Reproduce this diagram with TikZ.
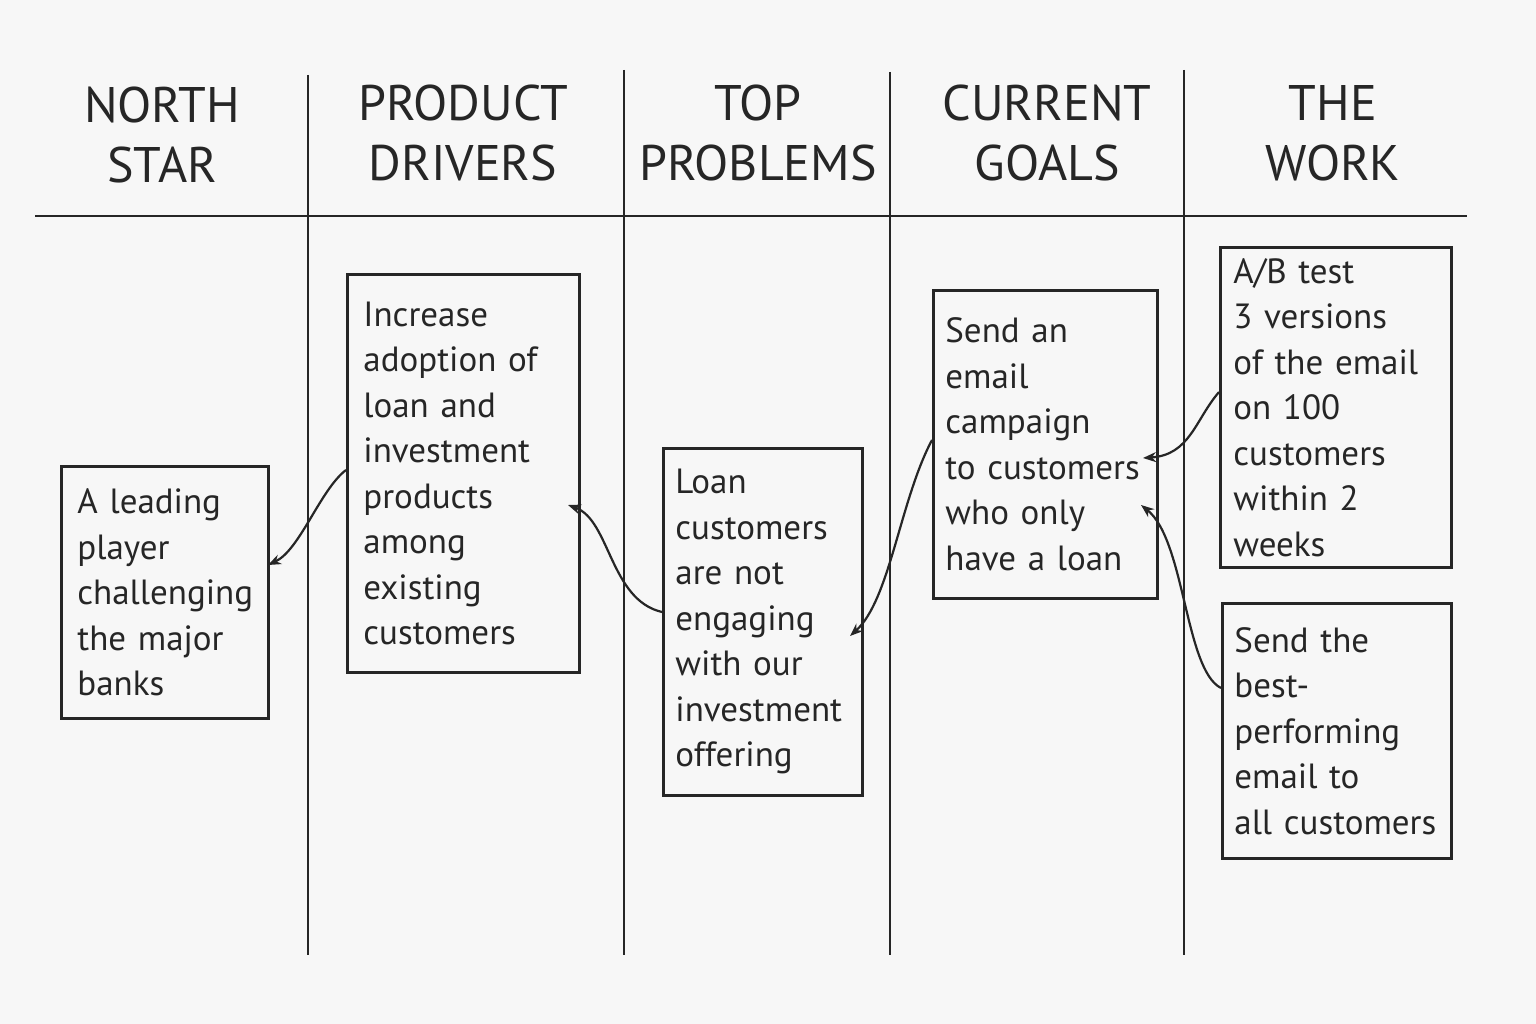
\documentclass[tikz,border=0pt]{standalone}
\usepackage{fontspec}
\setmainfont{PT Sans}
\usetikzlibrary{arrows.meta}
\begin{document}
\hyphenpenalty=10000 \exhyphenpenalty=10000
\begin{tikzpicture}[x=1pt,y=-1pt,
  rule/.style={line width=2.6pt,black!85},
  hdr/.style={font=\fontsize{50}{60}\selectfont,align=center,text=black!85},
  card/.style={draw=black!85,line width=2.8pt,anchor=north west,align=left,inner xsep=16pt,
     font=\fontsize{35}{45.5}\selectfont,text=black!85},
  link/.style={line width=2.2pt,black!85,-{Stealth[length=13pt,width=10pt]}}]
\useasboundingbox[fill=white!97!black] (0,0) rectangle (1536,1024);
\draw[rule] (35,216) -- (1467,216);
\draw[rule] (308,75) -- (308,955);
\draw[rule] (624,70) -- (624,955);
\draw[rule] (890,72) -- (890,955);
\draw[rule] (1184,70) -- (1184,955);
\node[hdr] (h1) at (162,135) {NORTH\\STAR};
\node[hdr] (h2) at (463,133) {PRODUCT\\DRIVERS};
\node[hdr] (h3) at (758,133) {TOP\\PROBLEMS};
\node[hdr] (h4) at (1047,133) {CURRENT\\GOALS};
\node[hdr] (h5) at (1333,133) {THE\\WORK};
\node[card,minimum width=207pt,minimum height=252pt,text width=175pt] (ns) at (60,465)
  {A leading\\player\\challenging\\the major\\banks};
\node[card,minimum width=232pt,minimum height=398pt,text width=200pt] (pd) at (346,273)
  {Increase\\adoption of\\loan and\\investment\\products\\among\\existing\\customers};
\node[card,minimum width=197pt,minimum height=347pt,text width=175pt,inner xsep=12pt] (tp) at (662,447)
  {Loan\\customers\\are not\\engaging\\with our\\investment\\offering};
\node[card,minimum width=221pt,minimum height=308pt,text width=200pt,inner xsep=12pt] (cg) at (932,289)
  {Send an\\email\\campaign\\to customers\\who only\\have a loan};
\node[card,minimum width=231pt,minimum height=320pt,text width=205pt,inner xsep=13pt] (w1) at (1219,246)
  {A/B test\\3 versions\\of the email\\on 100\\customers\\within 2\\weeks};
\node[card,minimum width=229pt,minimum height=255pt,text width=205pt,inner xsep=12pt] (w2) at (1221,602)
  {Send the\\best-\\performing\\email to\\all customers};
\coordinate (a1) at (pd.west |- 0,470);
\coordinate (b1) at (268,565);
\draw[link] (a1) .. controls (320,490) and (300,550) .. (b1);
\coordinate (a2) at (tp.west |- 0,612);
\draw[link] (a2) .. controls (610,600) and (610,520) .. (568,505);
\coordinate (a3) at (cg.west |- 0,440);
\draw[link] (a3) .. controls (900,500) and (890,600) .. (850,636);
\coordinate (a4) at (w1.west |- 0,392);
\draw[link] (a4) .. controls (1195,420) and (1190,455) .. (1143,458);
\coordinate (a5) at (w2.west |- 0,688);
\draw[link] (a5) .. controls (1185,670) and (1185,540) .. (1141,505);
\end{tikzpicture}
\end{document}
